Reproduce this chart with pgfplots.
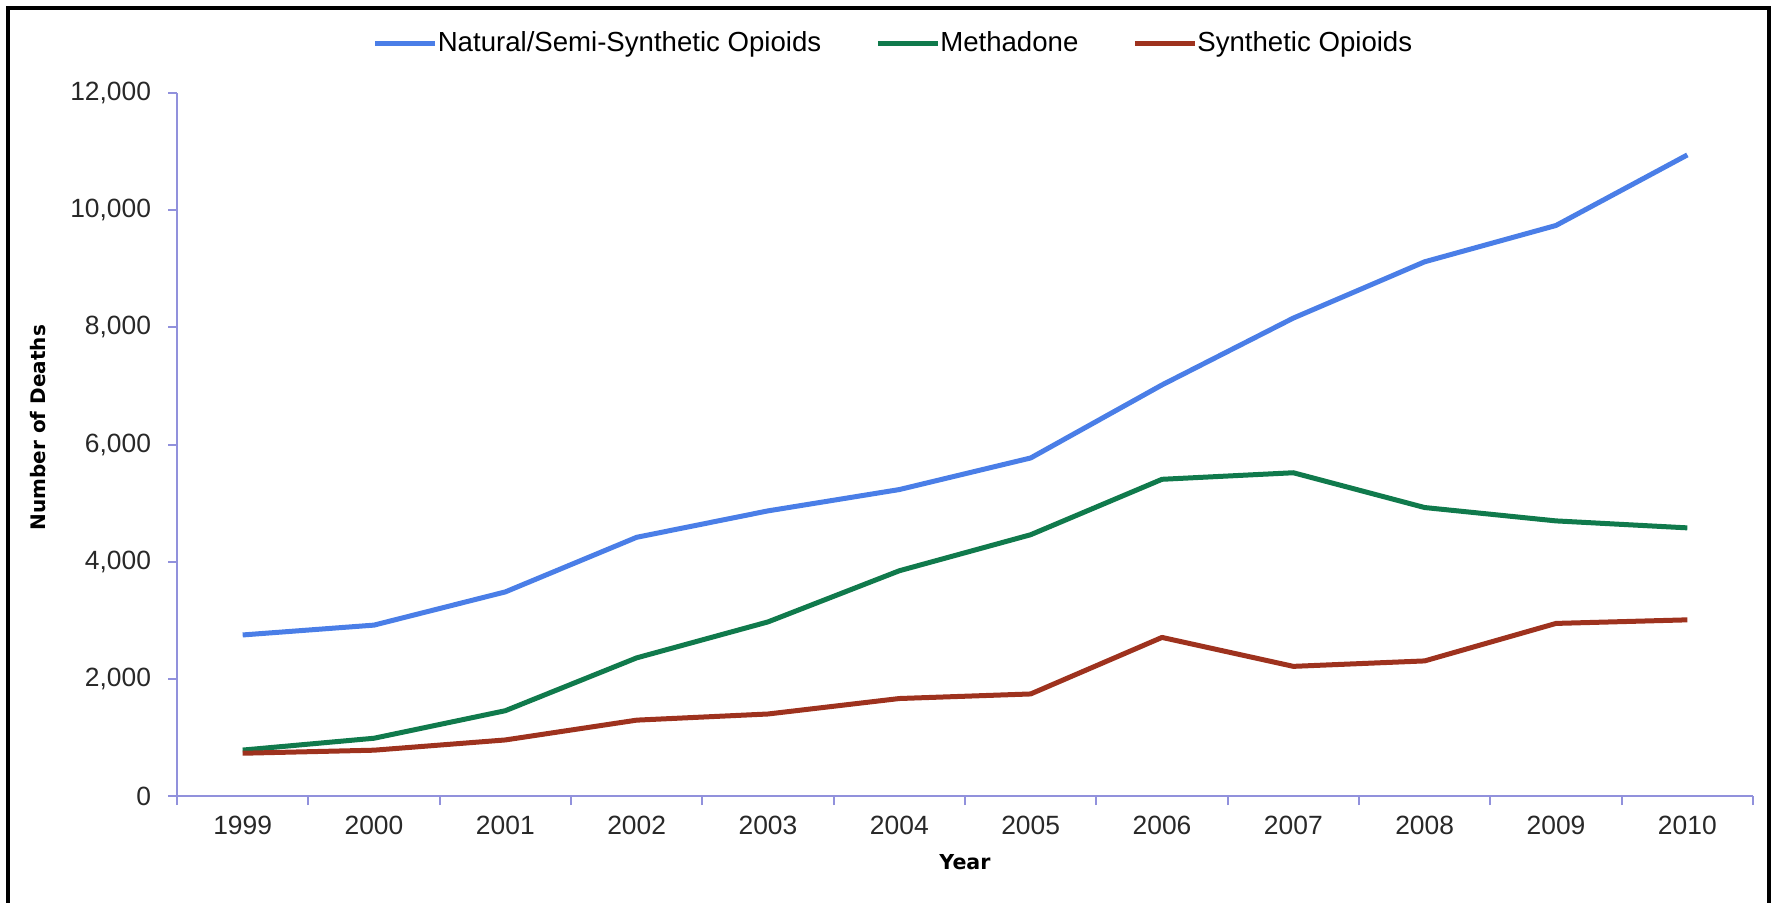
\documentclass[border=0pt]{standalone}
\usepackage{pgfplots}
\pgfplotsset{compat=1.18}
\usepackage{fontspec}
\setmainfont{Liberation Sans}
\newfontfamily\dejavu{DejaVu Sans}
\definecolor{cblue}{RGB}{74,126,231}
\definecolor{cgreen}{RGB}{16,122,76}
\definecolor{cred}{RGB}{158,50,30}
\definecolor{axcol}{RGB}{145,145,220}
\definecolor{tickcol}{RGB}{40,40,40}
\begin{document}
\begin{tikzpicture}
\useasboundingbox (0,0) rectangle (886.5pt,451pt);
\draw[line width=2pt, black] (4pt,-5pt) -- (4pt,447pt) -- (884.5pt,447pt) -- (884.5pt,-5pt);
\begin{axis}[
  at={(88.5pt,53pt)}, anchor=south west,
  scale only axis, width=788pt, height=351.5pt,
  xmin=-0.5, xmax=11.5, ymin=0, ymax=12000,
  axis x line*=bottom, axis y line*=left,
  axis line style={axcol, line width=1pt},
  tick align=outside, major tick length=4.5pt,
  tick style={axcol, line width=1pt},
  xtick={-0.5,0.5,...,11.5}, xticklabels={},
  extra x ticks={0,1,2,3,4,5,6,7,8,9,10,11},
  extra x tick labels={1999,2000,2001,2002,2003,2004,2005,2006,2007,2008,2009,2010},
  extra x tick style={major tick length=0pt, xticklabel style={anchor=center, yshift=-14.5pt}},
  ytick={0,2000,4000,6000,8000,10000,12000},
  scaled y ticks=false,
  /pgf/number format/assume math mode=true,
  /pgf/number format/1000 sep={,},
  ticklabel style={font=\fontsize{13.2}{16}\selectfont, text=tickcol},
  yticklabel style={anchor=east, inner sep=0pt, xshift=-8.3pt},
  ylabel={Number of Deaths},
  ylabel style={font=\dejavu\bfseries\fontsize{10}{12}\selectfont, at={(axis description cs:0,0.524)}, anchor=center, yshift=69.5pt},
  xlabel={Year},
  xlabel style={font=\dejavu\bfseries\fontsize{10.3}{12}\selectfont, at={(axis description cs:0.5,0)}, anchor=center, yshift=-33pt},
  legend style={at={(axis description cs:0.454,1.071)}, anchor=center, draw=none, fill=none,
    legend columns=3, font=\fontsize{13.8}{16}\selectfont, inner sep=0pt,
    nodes={inner sep=0pt},
    /tikz/every even column/.append style={column sep=27pt}},
  legend image code/.code={\draw[#1, line width=2.5pt] (0pt,0pt) -- (30pt,0pt);},
  every axis plot/.append style={line width=2.5pt, line join=round},
]
\addplot[cblue] coordinates {(0,2749) (1,2917) (2,3484) (3,4416) (4,4867) (5,5231) (6,5770) (7,7017) (8,8158) (9,9119) (10,9739) (11,10943)};
\addlegendentry{Natural/Semi-Synthetic Opioids}
\addplot[cgreen] coordinates {(0,784) (1,986) (2,1456) (3,2358) (4,2972) (5,3845) (6,4460) (7,5406) (8,5518) (9,4924) (10,4696) (11,4577)};
\addlegendentry{Methadone}
\addplot[cred] coordinates {(0,730) (1,782) (2,957) (3,1295) (4,1400) (5,1664) (6,1742) (7,2707) (8,2213) (9,2306) (10,2946) (11,3007)};
\addlegendentry{Synthetic Opioids}
\end{axis}
\end{tikzpicture}
\end{document}
